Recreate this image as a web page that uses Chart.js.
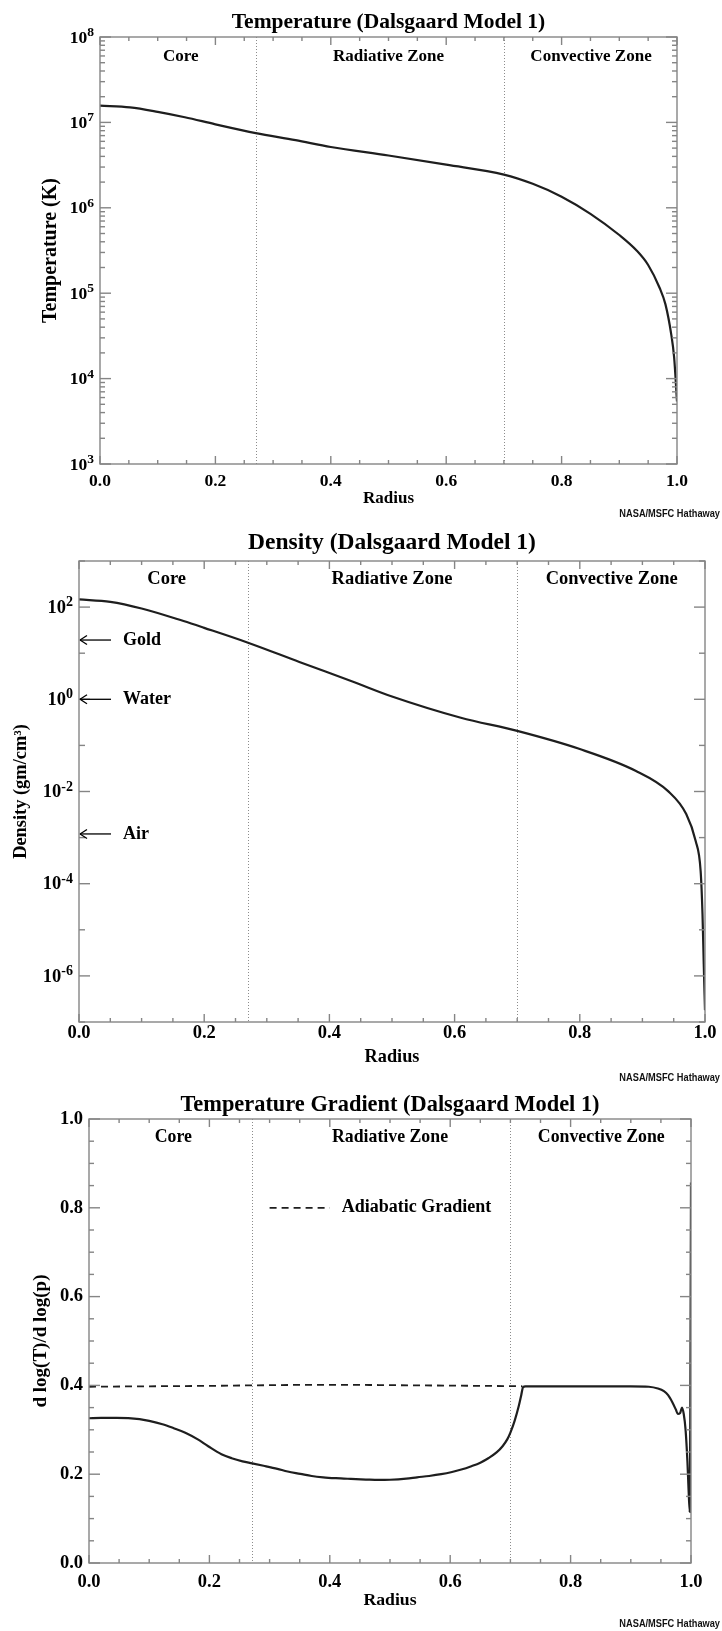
<!DOCTYPE html>
<html>
<head>
<meta charset="utf-8">
<script src="https://cdn.jsdelivr.net/npm/chart.js@4.4.1/dist/chart.umd.min.js"></script>
<style>
    html, body { margin: 0; padding: 0; background: #fff; }
    #page { position: relative; width: 722px; height: 1631px; }
    .panel { position: absolute; left: 0; width: 722px; }
</style>
</head>
<body>
<div id="page">
    <div class="panel" style="top:0;height:520px"><canvas id="tempChart"></canvas></div>
    <div class="panel" style="top:520px;height:565px"><canvas id="densChart"></canvas></div>
    <div class="panel" style="top:1085px;height:546px"><canvas id="gradChart"></canvas></div>
</div>
<script>
// Temperature (K) vs radius
const tempRadius = [0, 0.052, 0.10, 0.147, 0.20, 0.27, 0.339, 0.40, 0.50, 0.60, 0.70, 0.75, 0.80, 0.85, 0.90, 0.93, 0.95, 0.97, 0.98, 0.99, 0.995, 1.0];
const tempKelvin = [1.57e7, 1.50e7, 1.33e7, 1.15e7, 9.5e6, 7.5e6, 6.2e6, 5.15e6, 4.1e6, 3.2e6, 2.45e6, 1.91e6, 1.35e6, 8.5e5, 4.8e5, 3.16e5, 2.14e5, 1.15e5, 7.4e4, 3.3e4, 1.78e4, 5.4e3];

// Density (gm/cm^3) vs radius
const densRadius = [0, 0.05, 0.10, 0.167, 0.20, 0.27, 0.352, 0.44, 0.50, 0.61, 0.70, 0.80, 0.889, 0.941, 0.97, 0.985, 0.993, 0.996, 0.998, 1.0];
const densValue = [147, 130, 93.3, 49.8, 35.5, 16.9, 6.46, 2.34, 1.15, 0.398, 0.206, 0.0832, 0.0282, 0.0102, 3.24e-3, 8.5e-4, 1.9e-4, 2.2e-5, 1.8e-6, 1.8e-7];

// Temperature gradient d log(T)/d log(p) vs radius
const gradRadius = [0, 0.02, 0.046, 0.084, 0.10, 0.122, 0.14, 0.16, 0.18, 0.198, 0.22, 0.237, 0.255, 0.271, 0.29, 0.313, 0.33, 0.351, 0.37, 0.389, 0.41, 0.435, 0.46, 0.481, 0.50, 0.527, 0.545, 0.565, 0.585, 0.603, 0.62, 0.634, 0.65, 0.664, 0.677, 0.687, 0.695, 0.70, 0.707, 0.714, 0.718, 0.721, 0.725, 0.75, 0.80, 0.85, 0.90, 0.93, 0.945, 0.955, 0.962, 0.969, 0.975, 0.978, 0.982, 0.985, 0.988, 0.991, 0.994, 0.996, 0.998, 0.999, 1.0];
const gradValue = [0.326, 0.327, 0.327, 0.324, 0.320, 0.3125, 0.304, 0.2935, 0.279, 0.263, 0.245, 0.236, 0.229, 0.2245, 0.219, 0.212, 0.206, 0.2008, 0.196, 0.193, 0.191, 0.1894, 0.188, 0.187, 0.1875, 0.190, 0.193, 0.196, 0.200, 0.205, 0.211, 0.2175, 0.226, 0.2365, 0.249, 0.263, 0.279, 0.2935, 0.32, 0.354, 0.378, 0.396, 0.398, 0.398, 0.398, 0.398, 0.398, 0.397, 0.393, 0.387, 0.378, 0.362, 0.345, 0.336, 0.338, 0.350, 0.335, 0.300, 0.23, 0.164, 0.115, 0.40, 0.857];
const adiaRadius = [0, 0.10, 0.20, 0.27, 0.35, 0.45, 0.55, 0.65, 0.72];
const adiaValue = [0.397, 0.398, 0.399, 0.400, 0.401, 0.401, 0.400, 0.399, 0.398];

const zoneNames = ['Core', 'Radiative Zone', 'Convective Zone'];
const zoneEdges = [0.27, 0.70];
const radiusTicks = [0, 0.2, 0.4, 0.6, 0.8, 1.0];
const tempExponents = [3, 4, 5, 6, 7, 8];
const densExponents = [-6, -4, -2, 0, 2];
const gradTicks = [0, 0.2, 0.4, 0.6, 0.8, 1.0];
const refNames = ['Gold', 'Water', 'Air'];
const refDensity = [19.3, 1.0, 1.2e-3];

const SERIF = "'Liberation Serif', 'Times New Roman', serif";
const AXIS_GREY = '#858585';
const INK = '#1e1e1e';

function pts(xs, ys) {
    return xs.map((x, i) => ({ x: x, y: ys[i] }));
}

function txt(ctx, str, x, y, size, align) {
    ctx.font = 'bold ' + size + 'px ' + SERIF;
    ctx.textAlign = align || 'center';
    ctx.textBaseline = 'middle';
    ctx.fillText(str, x, y);
}

function seg(ctx, x1, y1, x2, y2) {
    ctx.beginPath();
    ctx.moveTo(x1, y1);
    ctx.lineTo(x2, y2);
    ctx.stroke();
}

// frame, inward ticks, labels, annotations
function decorPlugin(cfg) {
    return {
        id: 'decor',
        beforeDatasetsDraw(chart) {
            const { ctx, chartArea: a, scales: { x } } = chart;
            ctx.save();
            ctx.strokeStyle = '#8c8c8c';
            ctx.lineWidth = 1;
            ctx.setLineDash([1, 2]);
            zoneEdges.forEach(r => {
                const px = Math.round(x.getPixelForValue(r)) + 0.5;
                seg(ctx, px, a.top, px, a.bottom);
            });
            ctx.restore();
        },
        afterDraw(chart) {
            const { ctx, chartArea: a, scales: { x, y } } = chart;
            ctx.save();
            ctx.strokeStyle = AXIS_GREY;
            ctx.lineWidth = 1.4;
            ctx.strokeRect(a.left, a.top, a.right - a.left, a.bottom - a.top);

            // x ticks, top and bottom
            for (let i = 0; i <= 20; i++) {
                const v = i * 0.05;
                const len = (i % 4 === 0) ? 8 : 4;
                const px = x.getPixelForValue(v);
                seg(ctx, px, a.bottom, px, a.bottom - len);
                seg(ctx, px, a.top, px, a.top + len);
            }
            // y ticks, left and right
            cfg.yTicks(y).forEach(t => {
                const py = y.getPixelForValue(t.v);
                seg(ctx, a.left, py, a.left + t.len, py);
                seg(ctx, a.right, py, a.right - t.len, py);
            });

            ctx.fillStyle = '#000';
            // x tick labels
            radiusTicks.forEach(v => {
                txt(ctx, v.toFixed(1), x.getPixelForValue(v), cfg.xLabelY, cfg.tickSize);
            });
            txt(ctx, 'Radius', (a.left + a.right) / 2, cfg.radiusY, cfg.radiusSize);

            // y tick labels
            if (cfg.exponents) {
                cfg.exponents.forEach(e => {
                    const py = y.getPixelForValue(Math.pow(10, e));
                    const base = 'bold ' + cfg.tickSize + 'px ' + SERIF;
                    const sup = 'bold ' + cfg.supSize + 'px ' + SERIF;
                    ctx.font = base;
                    const wb = ctx.measureText('10').width;
                    ctx.font = sup;
                    const ws = ctx.measureText(String(e)).width;
                    const left = a.left - 6 - wb - ws;
                    txt(ctx, '10', left, py + 1, cfg.tickSize, 'left');
                    ctx.font = sup;
                    ctx.textAlign = 'left';
                    ctx.textBaseline = 'alphabetic';
                    ctx.fillText(String(e), left + wb, py - 1);
                });
            } else {
                gradTicks.forEach(v => {
                    txt(ctx, v.toFixed(1), a.left - 6, y.getPixelForValue(v), cfg.tickSize, 'right');
                });
            }

            // y axis title
            ctx.save();
            ctx.translate(cfg.yTitleX, (a.top + a.bottom) / 2);
            ctx.rotate(-Math.PI / 2);
            txt(ctx, cfg.yTitle, 0, 0, cfg.yTitleSize);
            ctx.restore();

            // title and zone names
            txt(ctx, cfg.title, (a.left + a.right) / 2, cfg.titleY, cfg.titleSize);
            const zoneAt = [0.14, 0.50, 0.851];
            zoneNames.forEach((n, i) => {
                txt(ctx, n, x.getPixelForValue(zoneAt[i]), a.top + cfg.zoneDy, cfg.zoneSize);
            });

            if (cfg.extra) cfg.extra(chart);

            // credit
            ctx.save();
            ctx.translate(720, cfg.creditY);
            ctx.scale(0.84, 1);
            ctx.font = 'bold 11px "Liberation Sans", Arial, sans-serif';
            ctx.textAlign = 'right';
            ctx.textBaseline = 'alphabetic';
            ctx.fillStyle = '#111';
            ctx.fillText('NASA/MSFC Hathaway', 0, 0);
            ctx.restore();

            ctx.restore();
        }
    };
}

function logTicks(lo, hi, every) {
    return y => {
        const list = [];
        for (let e = lo; e <= hi; e++) {
            list.push({ v: Math.pow(10, e), len: (every === 1 || e % 2 === 0) ? 11 : 6 });
            if (every === 1 && e < hi) {
                for (let m = 2; m <= 9; m++) list.push({ v: m * Math.pow(10, e), len: 5 });
            }
        }
        return list;
    };
}

function makeChart(id, datasets, yScale, padding, cfg) {
    return new Chart(document.getElementById(id), {
        type: 'line',
        data: { datasets: datasets },
        options: {
            responsive: true,
            maintainAspectRatio: false,
            animation: false,
            devicePixelRatio: 1,
            layout: { padding: padding },
            plugins: { legend: { display: false }, title: { display: false }, tooltip: { enabled: false } },
            scales: {
                x: { type: 'linear', min: 0, max: 1, display: false },
                y: Object.assign({ display: false }, yScale)
            }
        },
        plugins: [decorPlugin(cfg)]
    });
}

function curve(data, extra) {
    return Object.assign({
        data: data,
        borderColor: INK,
        borderWidth: 2.2,
        pointRadius: 0,
        fill: false,
        cubicInterpolationMode: 'monotone'
    }, extra || {});
}

makeChart('tempChart',
    [curve(pts(tempRadius, tempKelvin))],
    { type: 'logarithmic', min: 1e3, max: 1e8 },
    { left: 100, right: 45, top: 37, bottom: 56 },
    {
        title: 'Temperature (Dalsgaard Model 1)', titleY: 22, titleSize: 21.5,
        zoneDy: 20, zoneSize: 17,
        tickSize: 17.5, supSize: 13.5, xLabelY: 481, radiusY: 499, radiusSize: 17,
        yTitle: 'Temperature (K)', yTitleX: 51, yTitleSize: 20,
        exponents: tempExponents, yTicks: logTicks(3, 8, 1), creditY: 517
    });

makeChart('densChart',
    [curve(pts(densRadius, densValue))],
    { type: 'logarithmic', min: 1e-7, max: 1e3 },
    { left: 79, right: 17, top: 41, bottom: 63 },
    {
        title: 'Density (Dalsgaard Model 1)', titleY: 23, titleSize: 23.5,
        zoneDy: 18, zoneSize: 18.5,
        tickSize: 18.5, supSize: 14, xLabelY: 513, radiusY: 537, radiusSize: 18.3,
        yTitle: 'Density (gm/cm³)', yTitleX: 21, yTitleSize: 18.4,
        exponents: densExponents, yTicks: logTicks(-7, 3, 2), creditY: 561,
        extra(chart) {
            const { ctx, chartArea: a, scales: { y } } = chart;
            ctx.save();
            ctx.strokeStyle = '#000';
            ctx.lineWidth = 1.3;
            refNames.forEach((n, i) => {
                const py = y.getPixelForValue(refDensity[i]);
                seg(ctx, a.left + 1, py, a.left + 32, py);
                seg(ctx, a.left + 1, py, a.left + 8, py - 4.5);
                seg(ctx, a.left + 1, py, a.left + 8, py + 4.5);
                txt(ctx, n, a.left + 44, py, 18, 'left');
            });
            ctx.restore();
        }
    });

makeChart('gradChart',
    [
        curve(pts(gradRadius, gradValue)),
        curve(pts(adiaRadius, adiaValue), { borderDash: [7, 5], borderWidth: 1.8 })
    ],
    { type: 'linear', min: 0, max: 1 },
    { left: 89, right: 31, top: 34, bottom: 68 },
    {
        title: 'Temperature Gradient (Dalsgaard Model 1)', titleY: 20, titleSize: 22.4,
        zoneDy: 18, zoneSize: 17.8,
        tickSize: 18.5, xLabelY: 497, radiusY: 515, radiusSize: 17.7,
        yTitle: 'd log(T)/d log(p)', yTitleX: 41, yTitleSize: 19,
        yTicks: () => {
            const list = [];
            for (let i = 0; i <= 20; i++) list.push({ v: i * 0.05, len: i % 4 === 0 ? 11 : 5 });
            return list;
        },
        creditY: 542,
        extra(chart) {
            const { ctx, scales: { x, y } } = chart;
            const py = y.getPixelForValue(0.8);
            ctx.save();
            ctx.strokeStyle = INK;
            ctx.lineWidth = 1.8;
            ctx.setLineDash([7, 5]);
            seg(ctx, x.getPixelForValue(0.30), py, x.getPixelForValue(0.40), py);
            ctx.restore();
            txt(ctx, 'Adiabatic Gradient', x.getPixelForValue(0.42), py, 18, 'left');
        }
    });
</script>
</body>
</html>
